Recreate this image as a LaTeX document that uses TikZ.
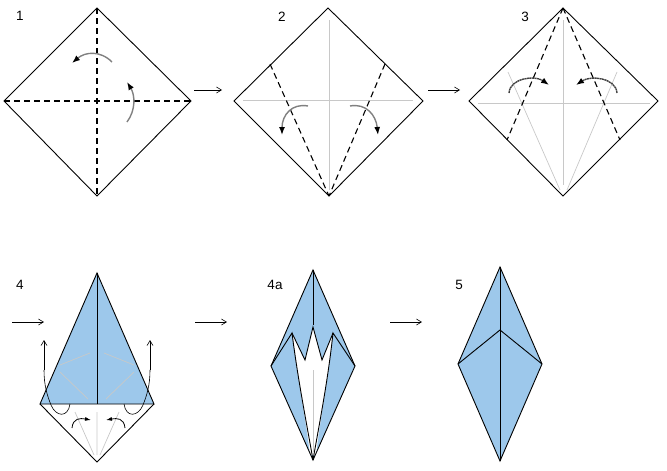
\documentclass[tikz,border=0pt]{standalone}
\usepackage{fontspec}
\setmainfont{Liberation Sans}
\usetikzlibrary{arrows.meta}
\definecolor{paper}{HTML}{9DC8EB}
\definecolor{crease}{HTML}{C8C8C8}
\begin{document}
\begin{tikzpicture}[x=1pt,y=-1pt,
  edge/.style={line width=0.9pt,black},
  dashline/.style={line width=1.1pt,dash pattern=on 6pt off 4pt},
  grey/.style={crease,line width=1pt},
  steparrow/.style={-{Straight Barb[length=5pt,width=6pt]},line width=0.6pt},
  turn/.style={gray,line width=1.4pt,-{Latex[length=8pt,width=6pt,black]}},
  lab/.style={font=\fontsize{13.5}{13.5}\selectfont,anchor=center}]
\useasboundingbox (0,0) rectangle (667,471);
% ---------- 1
\coordinate (a1t) at (97,8); \coordinate (a1l) at (4,101); \coordinate (a1r) at (191,101); \coordinate (a1b) at (97,196);
\draw[dashline] (a1t)--(a1b); \draw[dashline] (a1l)--(a1r);
\draw[edge] (a1t)--(a1r)--(a1b)--(a1l)--cycle;
\node[lab] (l1) at (20,16) {1};
\draw[turn] (112,62) .. controls (100,50) and (85,52) .. (72,63);
\draw[turn] (127,122) .. controls (136,110) and (135,95) .. (127,82);
\coordinate (s1a) at (194,90); \coordinate (s1b) at (222,90);
\draw[steparrow] (s1a)--(s1b);
% ---------- 2
\coordinate (a2t) at (328,8); \coordinate (a2l) at (234,101); \coordinate (a2r) at (423,101); \coordinate (a2b) at (329,196);
\draw[grey] (329,20)--(329,190); \draw[grey] (243,100)--(413,100);
\draw[dashline] (270,64)--(a2b); \draw[dashline] (385,64)--(a2b);
\draw[edge] (a2t)--(a2r)--(a2b)--(a2l)--cycle;
\node[lab] (l2) at (282,17) {2};
\draw[turn] (308,106) .. controls (292,103) and (282,115) .. (282,135);
\draw[turn] (350,106) .. controls (366,103) and (376,115) .. (378,135);
\coordinate (s2a) at (428,90); \coordinate (s2b) at (460,90);
\draw[steparrow] (s2a)--(s2b);
% ---------- 3
\coordinate (a3t) at (563,8); \coordinate (a3l) at (469,101); \coordinate (a3r) at (658,101); \coordinate (a3b) at (563,196);
\draw[grey] (563,20)--(563,185); \draw[grey] (478,103)--(650,103);
\draw[crease,line width=0.7pt] (508,72)--(560,190); \draw[crease,line width=0.7pt] (617,72)--(567,190);
\draw[dashline] (a3t)--(507,140); \draw[dashline] (a3t)--(620,140);
\draw[edge] (a3t)--(a3r)--(a3b)--(a3l)--cycle;
\node[lab] (l3) at (525,17) {3};
\draw[turn,black!75,dash pattern=on 2pt off 0.5pt] (509,93) .. controls (510,78) and (535,75) .. (549,85);
\draw[turn,black!75,dash pattern=on 2pt off 0.5pt] (617,93) .. controls (616,78) and (591,75) .. (576,85);
% ---------- 4
\coordinate (a4t) at (97,273); \coordinate (a4l) at (40,404); \coordinate (a4r) at (154,404); \coordinate (a4b) at (97,462);
\fill[paper] (a4t)--(a4r)--(a4l)--cycle;
\draw[crease,line width=0.7pt] (60,365)--(90,353) (60,372)--(88,399) (134,365)--(104,353) (134,372)--(106,399);
\draw[crease,line width=0.7pt] (75,412)--(94,455) (97,412)--(97,455) (119,412)--(100,455);
\draw[edge] (a4t)--(a4r)--(a4l)--cycle;
\draw[edge] (a4l)--(a4b)--(a4r);
\draw[edge] (a4t)--(97,404);
\draw[line width=0.6pt] (70,404) .. controls (68,418) and (56,417) .. (51,405) .. controls (47,395) and (44,385) .. (44,370);
\draw[steparrow] (44,370)--(44,340);
\draw[line width=0.6pt] (124,404) .. controls (126,418) and (138,417) .. (143,405) .. controls (147,395) and (150,385) .. (150,370);
\draw[steparrow] (150,370)--(150,340);
\draw[line width=0.8pt,-{Latex[length=6pt,width=4pt]}] (72,428) .. controls (73,418) and (80,418) .. (91,420);
\draw[line width=0.8pt,-{Latex[length=6pt,width=4pt]}] (125,428) .. controls (124,418) and (117,418) .. (106,420);
\node[lab] (l4) at (20,285) {4};
\coordinate (s3a) at (12,322); \coordinate (s3b) at (44,322);
\draw[steparrow] (s3a)--(s3b);
% ---------- 4a
\coordinate (b4t) at (313,270); \coordinate (b4l) at (271,366); \coordinate (b4r) at (355,366); \coordinate (b4b) at (313,460);
\fill[paper] (b4t)--(b4r)--(b4b)--(b4l)--cycle;
\fill[white] (292,333)--(305,360)--(313,327)--(322,360)--(333,333) .. controls (328,380) and (320,420) .. (316,455)--(310,455) .. controls (306,420) and (298,380) .. cycle;
\draw[crease,line width=1pt] (313,370)--(313,452);
\draw[edge] (292,333)--(305,360)--(313,327)--(322,360)--(333,333);
\draw[edge] (b4l)--(292,333) .. controls (298,380) and (306,420) .. (b4b);
\draw[edge] (b4r)--(333,333) .. controls (328,380) and (320,420) .. (b4b);
\draw[edge] (b4t)--(313,325);
\draw[edge] (b4t)--(b4r)--(b4b)--(b4l)--cycle;
\node[lab] (l4a) at (275,285) {4a};
\coordinate (s4a) at (195,322); \coordinate (s4b) at (227,322);
\draw[steparrow] (s4a)--(s4b);
% ---------- 5
\coordinate (c5t) at (500,267); \coordinate (c5l) at (458,364); \coordinate (c5r) at (542,364); \coordinate (c5b) at (500,461); \coordinate (c5m) at (500,330);
\fill[paper] (c5t)--(c5r)--(c5b)--(c5l)--cycle;
\draw[edge] (c5t)--(c5r)--(c5b)--(c5l)--cycle;
\draw[edge] (c5t)--(c5b); \draw[edge] (c5l)--(c5m)--(c5r);
\node[lab] (l5) at (459,285) {5};
\coordinate (s5a) at (390,322); \coordinate (s5b) at (422,322);
\draw[steparrow] (s5a)--(s5b);
\end{tikzpicture}
\end{document}
